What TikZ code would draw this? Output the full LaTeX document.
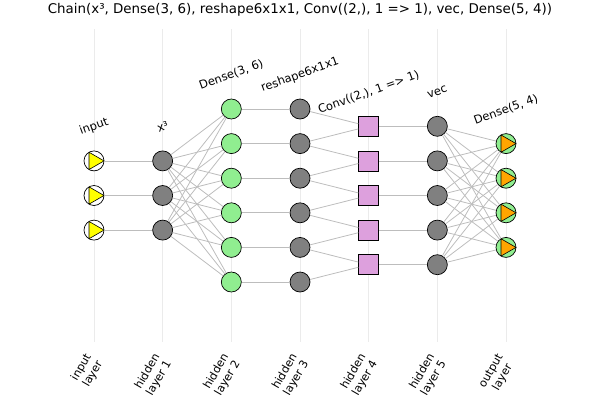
\documentclass[tikz,border=0pt]{standalone}
\usepackage{fontspec}
\setmainfont{DejaVu Sans}
\definecolor{edgegray}{HTML}{BDBDBD}
\definecolor{gridgray}{HTML}{EBEBEB}
\definecolor{nodegray}{HTML}{808080}
\definecolor{lgreen}{HTML}{90EE90}
\definecolor{plumc}{HTML}{DDA0DD}
\definecolor{orangec}{HTML}{FFA500}
\definecolor{yellowc}{HTML}{FFFF00}
\begin{document}
\begin{tikzpicture}[x=1pt,y=-1pt,
  edge/.style={draw=edgegray, line width=0.8pt},
  gridline/.style={draw=gridgray, line width=0.6pt},
  neuron/.style={circle, draw=black, line width=0.7pt, minimum size=20pt, inner sep=0pt},
  inneuron/.style={neuron, fill=white},
  grayneuron/.style={neuron, fill=nodegray},
  greenneuron/.style={neuron, fill=lgreen},
  convbox/.style={rectangle, draw=black, line width=0.7pt, fill=plumc, minimum size=20pt, inner sep=0pt},
  tri/.style={draw=black, line width=0.6pt, line join=round},
  toplabel/.style={font=\fontsize{11.5}{13.5}\selectfont, rotate=20, inner sep=0pt},
  botlabel/.style={font=\fontsize{11.2}{13.2}\selectfont, rotate=60, anchor=east, align=center, inner sep=0pt},
  titlelabel/.style={font=\fontsize{13.4}{16}\selectfont, inner sep=0pt}
]
\useasboundingbox (0,0) rectangle (600,400);
% grid lines
\foreach \l in {0,...,6} {
  \pgfmathsetmacro\xx{94+68.667*\l}
  \coordinate (gt\l) at (\xx,29);
  \coordinate (gb\l) at (\xx,342);
  \draw[gridline] (gt\l) -- (gb\l);
  \pgfmathsetmacro\xb{94.5+68.667*\l}
  \coordinate (bl\l) at (\xb,358);
}
% positions
\foreach \l/\n in {0/3,1/3,2/6,3/6,4/5,5/5,6/4} {
  \foreach \k in {1,...,\n} {
    \pgfmathsetmacro\xx{94+68.667*\l}
    \pgfmathsetmacro\yy{195.5+34.6*(\k-(\n+1)/2)}
    \coordinate (p\l-\k) at (\xx,\yy);
  }
}
% nodes
\foreach \k in {1,2,3} \node[inneuron] (n0-\k) at (p0-\k) {};
\foreach \k in {1,2,3} \node[grayneuron] (n1-\k) at (p1-\k) {};
\foreach \k in {1,...,6} \node[greenneuron] (n2-\k) at (p2-\k) {};
\foreach \k in {1,...,6} \node[grayneuron] (n3-\k) at (p3-\k) {};
\foreach \k in {1,...,5} \node[convbox] (n4-\k) at (p4-\k) {};
\foreach \k in {1,...,5} \node[grayneuron] (n5-\k) at (p5-\k) {};
\foreach \k in {1,...,4} \node[greenneuron] (n6-\k) at (p6-\k) {};
% triangles
\foreach \k in {1,2,3}
  \filldraw[tri, fill=yellowc, shift={(n0-\k.center)}] (0:10pt) -- (120:10pt) -- (240:10pt) -- cycle;
\foreach \k in {1,...,4}
  \filldraw[tri, fill=orangec, shift={(n6-\k.center)}] (0:10pt) -- (120:10pt) -- (240:10pt) -- cycle;
% edges
\foreach \k in {1,2,3} \draw[edge] (n0-\k) -- (n1-\k);
\foreach \i in {1,2,3} \foreach \j in {1,...,6} \draw[edge] (n1-\i) -- (n2-\j);
\foreach \k in {1,...,6} \draw[edge] (n2-\k) -- (n3-\k);
\foreach \j in {1,...,5} {
  \pgfmathtruncatemacro\jj{\j+1}
  \draw[edge] (n3-\j) -- (n4-\j);
  \draw[edge] (n3-\jj) -- (n4-\j);
}
\foreach \k in {1,...,5} \draw[edge] (n4-\k) -- (n5-\k);
\foreach \i in {1,...,5} \foreach \j in {1,...,4} \draw[edge] (n5-\i) -- (n6-\j);
% title
\node[titlelabel] (title) at (300,9.5) {Chain(x³, Dense(3, 6), reshape6x1x1, Conv((2,), 1 => 1), vec, Dense(5, 4))};
% top labels
\node[toplabel] (t0) at ([yshift=34pt]n0-1.center) {input};
\node[toplabel] (t1) at ([yshift=34pt]n1-1.center) {x³};
\node[toplabel] (t2) at ([yshift=34pt]n2-1.center) {Dense(3, 6)};
\node[toplabel] (t3) at ([yshift=34pt]n3-1.center) {reshape6x1x1};
\node[toplabel] (t4) at ([yshift=34pt]n4-1.center) {Conv((2,), 1 => 1)};
\node[toplabel] (t5) at ([yshift=34pt]n5-1.center) {vec};
\node[toplabel] (t6) at ([yshift=34pt]n6-1.center) {Dense(5, 4)};
% bottom labels
\node[botlabel] (b0) at (bl0) {input\\layer};
\node[botlabel] (b1) at (bl1) {hidden\\layer 1};
\node[botlabel] (b2) at (bl2) {hidden\\layer 2};
\node[botlabel] (b3) at (bl3) {hidden\\layer 3};
\node[botlabel] (b4) at (bl4) {hidden\\layer 4};
\node[botlabel] (b5) at (bl5) {hidden\\layer 5};
\node[botlabel] (b6) at (bl6) {output\\layer};
\end{tikzpicture}
\end{document}
